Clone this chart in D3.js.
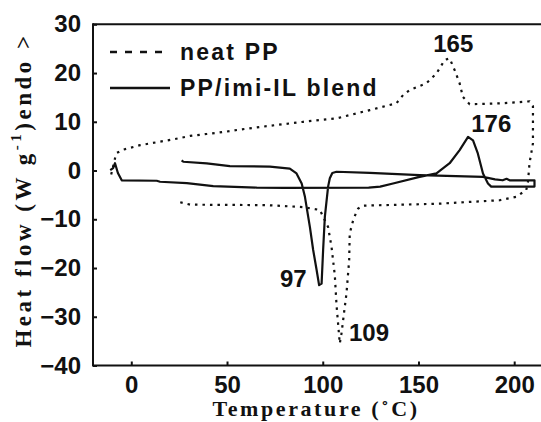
<!DOCTYPE html>
<html>
<head>
<meta charset="utf-8">
<script src="https://cdn.jsdelivr.net/npm/d3@7"></script>
<style>
  body { margin: 0; background: #fff; }
  svg { display: block; }
</style>
</head>
<body>
<svg id="chart" width="541" height="422"></svg>
<script>
// neat PP, heating branch then cooling branch (temperature in C, heat flow in W/g)
var neatT = [-10.5, -9.5, -8.2, -7.6, -4.1, 4.6, 13.3, 22, 30.7, 39.4, 48, 56.8, 70.7, 89.8, 107.2, 124.6, 138.5, 142, 145.4, 154.1, 159.4, 163.7, 166.3, 168.9, 171.5, 173.2, 176.7, 194.1, 208, 209.8, 209.8, 208, 207.2, 206.3, 201, 192.4, 178.5, 161, 142, 121, 118.5, 117.6, 115.9, 114.1, 113.8, 112.4, 111.5, 109.8, 108.9, 107.2, 106.3, 104.6, 102.8, 98.5, 89.8, 70.7, 30.7, 25.5];
var neatV = [-0.8, 0.8, 3.0, 3.6, 4.3, 5.2, 5.8, 6.4, 7.1, 7.5, 7.9, 8.4, 9.1, 10.0, 10.7, 12.4, 13.8, 15.5, 16.5, 17.9, 19.9, 22.7, 23.0, 20.6, 17.9, 15.1, 13.6, 13.8, 14.2, 13.2, 5.6, 1.5, -2.3, -4.0, -5.4, -6.1, -6.4, -6.8, -7.0, -7.2, -7.8, -8.5, -10.2, -12.9, -18.4, -25.2, -28, -33.4, -35.5, -27.6, -21.5, -15.7, -11.6, -8.1, -7.5, -7.1, -7.0, -6.5];

// PP/imi-IL blend, heating branch then cooling branch
var blendT = [-11, -9.5, -8.5, -7, -5, 13.3, 15, 29, 42.8, 65.5, 80, 124, 130, 136.7, 150.6, 159.4, 166.3, 171.5, 175.9, 178.5, 181, 183.7, 186.3, 188, 208, 210.6, 210.6, 197.6, 196, 194, 190, 183.7, 150.6, 124.6, 107.2, 105, 103.7, 102.8, 101.1, 100.2, 99.4, 98.1, 96.8, 95, 93.3, 90.7, 89, 86.3, 82.8, 72.4, 51.5, 39.4, 27.2, 26.3];
var blendV = [0.1, 0.5, 1.5, -0.5, -2.0, -2.1, -2.3, -2.6, -3.2, -3.5, -3.55, -3.5, -3.3, -2.65, -1.3, -0.6, 1.5, 4.2, 6.9, 6.2, 3.5, -0.6, -2.65, -3.3, -3.3, -3.3, -2.0, -2.0, -1.7, -2.0, -1.8, -1.3, -0.95, -0.5, -0.25, -0.5, -1.6, -3.3, -9.5, -16.3, -23.2, -23.5, -20.4, -16.3, -11.6, -5.4, -2.65, -0.6, 0.4, 0.8, 0.9, 1.45, 1.8, 2.1];

var xTicks = [0, 50, 100, 150, 200];
var yTicks = [-40, -30, -20, -10, 0, 10, 20, 30];

// peak labels
var peakText = ["165", "176", "97", "109"];
var peakT = [165, 176, 97, 109];
var peakV = [23, 7, -23.5, -35.5];

var svg = d3.select("#chart");
var width = 541, height = 422;

// note: "top" is a reserved window property, so use other names
var plotLeft = 93, plotTop = 24.3, plotBottom = 365.5;

var x = d3.scaleLinear().domain([-20, 214]).range([plotLeft, width]);
var y = d3.scaleLinear().domain([-40, 30]).range([plotBottom, plotTop]);

var sans = "'Liberation Sans', Arial, sans-serif";
var serif = "'Liberation Serif', 'Times New Roman', serif";

// frame: left, bottom and top lines (right edge is cut off)
var frame = svg.append("g")
    .attr("stroke", "#111")
    .attr("stroke-width", 2);
frame.append("line").attr("x1", plotLeft).attr("x2", plotLeft).attr("y1", plotTop - 1).attr("y2", plotBottom + 1);
frame.append("line").attr("x1", plotLeft).attr("x2", width).attr("y1", plotBottom).attr("y2", plotBottom);
frame.append("line").attr("x1", plotLeft).attr("x2", width).attr("y1", plotTop).attr("y2", plotTop);

// x axis
var xAxis = svg.append("g")
    .attr("transform", "translate(0," + plotBottom + ")")
    .call(d3.axisBottom(x).tickValues(xTicks).tickSizeInner(-4).tickSizeOuter(0).tickPadding(10));
xAxis.select(".domain").remove();
xAxis.selectAll("line").attr("stroke", "#111").attr("stroke-width", 2);
xAxis.selectAll("text")
    .attr("font-family", sans)
    .attr("font-weight", "bold")
    .attr("font-size", "24px")
    .attr("fill", "#111");

// y axis
var yAxis = svg.append("g")
    .attr("transform", "translate(" + plotLeft + ",0)")
    .call(d3.axisLeft(y).tickValues(yTicks).tickSizeInner(-4).tickSizeOuter(0).tickPadding(12));
yAxis.select(".domain").remove();
yAxis.selectAll("line").attr("stroke", "#111").attr("stroke-width", 2);
yAxis.selectAll("text")
    .attr("font-family", sans)
    .attr("font-weight", "bold")
    .attr("font-size", "24px")
    .attr("fill", "#111");

// axis titles
svg.append("text")
    .attr("x", 316)
    .attr("y", 416)
    .attr("text-anchor", "middle")
    .attr("font-family", serif)
    .attr("font-weight", "bold")
    .attr("font-size", "22px")
    .attr("letter-spacing", "2.6px")
    .attr("fill", "#111")
    .text("Temperature (\u02DAC)");

var yTitle = svg.append("text")
    .attr("transform", "translate(31,190) rotate(-90)")
    .attr("text-anchor", "middle")
    .attr("font-family", serif)
    .attr("font-weight", "bold")
    .attr("font-size", "23px")
    .attr("letter-spacing", "3.5px")
    .attr("fill", "#111");
yTitle.append("tspan").text("Heat flow (W g");
yTitle.append("tspan").attr("dy", -10).attr("font-size", "15px").text("-1");
yTitle.append("tspan").attr("dy", 10).text(")endo >");

// curves
var line = d3.line()
    .x(function(d) { return x(d[0]); })
    .y(function(d) { return y(d[1]); });

svg.append("path")
    .datum(d3.zip(neatT, neatV))
    .attr("d", line)
    .attr("fill", "none")
    .attr("stroke", "#111")
    .attr("stroke-width", 2.2)
    .attr("stroke-dasharray", "2.5,5");

svg.append("path")
    .datum(d3.zip(blendT, blendV))
    .attr("d", line)
    .attr("fill", "none")
    .attr("stroke", "#111")
    .attr("stroke-width", 2.2)
    .attr("stroke-linejoin", "round");

// peak labels, offsets by hand
var offsets = [[-14, -6], [3, -4.5], [-37, 2], [9, -3]];
peakText.forEach(function(t, i) {
    svg.append("text")
        .attr("x", x(peakT[i]) + offsets[i][0])
        .attr("y", y(peakV[i]) + offsets[i][1])
        .attr("font-family", sans)
        .attr("font-weight", "bold")
        .attr("font-size", "24px")
        .attr("fill", "#111")
        .text(t);
});

// legend
var legend = svg.append("g").attr("transform", "translate(110,0)");
legend.append("line")
    .attr("x1", 0).attr("x2", 58).attr("y1", 52).attr("y2", 52)
    .attr("stroke", "#111").attr("stroke-width", 2.4)
    .attr("stroke-dasharray", "7,8");
legend.append("line")
    .attr("x1", 0).attr("x2", 60).attr("y1", 88).attr("y2", 88)
    .attr("stroke", "#111").attr("stroke-width", 2.4);
legend.append("text")
    .attr("x", 70).attr("y", 60)
    .attr("font-family", sans).attr("font-weight", "bold")
    .attr("font-size", "23px").attr("letter-spacing", "2.2px")
    .attr("fill", "#111")
    .text("neat PP");
legend.append("text")
    .attr("x", 70).attr("y", 96)
    .attr("font-family", sans).attr("font-weight", "bold")
    .attr("font-size", "23px").attr("letter-spacing", "2.2px")
    .attr("fill", "#111")
    .text("PP/imi-IL blend");
</script>
</body>
</html>
